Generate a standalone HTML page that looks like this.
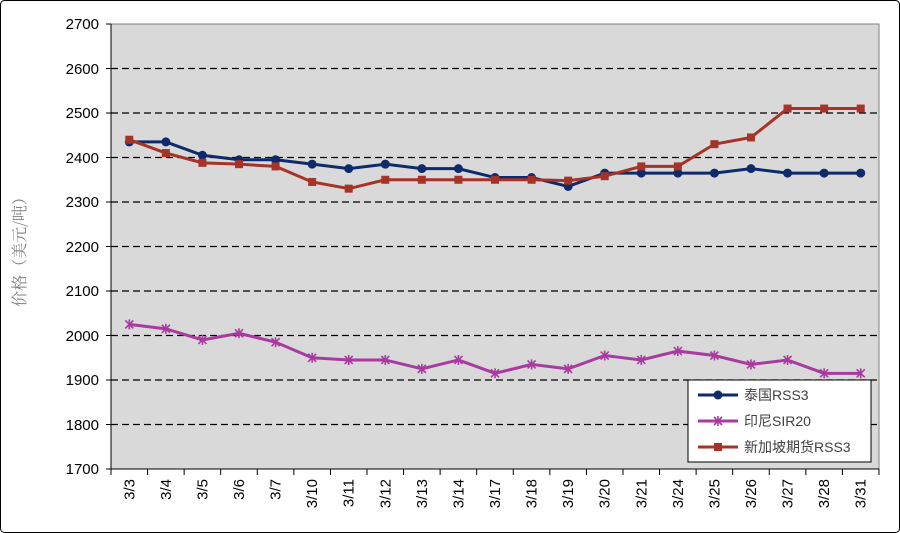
<!DOCTYPE html>
<html><head><meta charset="utf-8"><style>
body{margin:0;background:#fff;}
svg{display:block;font-family:"Liberation Sans","Noto Sans CJK SC",sans-serif;}
</style></head><body>
<svg id="s" width="900" height="533" viewBox="0 0 900 533">
<rect x="0.5" y="0.5" width="899" height="532" rx="4" fill="#fff" stroke="#000"/>
<rect x="111" y="24" width="768" height="445" fill="#d9d9d9" stroke="#808080"/>
<g id="grid"></g>
<g font-size="15" fill="#000" text-anchor="end">
<text x="99" y="29">2700</text><text x="99" y="74">2600</text><text x="99" y="118">2500</text><text x="99" y="163">2400</text><text x="99" y="207">2300</text><text x="99" y="252">2200</text><text x="99" y="296">2100</text><text x="99" y="341">2000</text><text x="99" y="385">1900</text><text x="99" y="430">1800</text><text x="99" y="474">1700</text>
</g>
<text transform="translate(25,248) rotate(-90)" font-size="16" fill="#7f7f7f" text-anchor="middle" font-family="'Noto Serif CJK SC',serif">价格（美元/吨）</text>
<g id="xl" font-size="15" fill="#000"></g>
<g id="series"></g>
<rect x="688" y="380" width="183" height="82" fill="#fff" stroke="#000"/>
<line x1="698" y1="395" x2="738" y2="395" stroke="#0d2a6b" stroke-width="3"/><circle cx="718" cy="395" r="4.5" fill="#0d2a6b"/>
<line x1="698" y1="421" x2="738" y2="421" stroke="#a83b9f" stroke-width="3"/>
<g stroke="#a83b9f" stroke-width="1.6"><line x1="714" y1="417" x2="722" y2="425"/><line x1="722" y1="417" x2="714" y2="425"/><line x1="718" y1="416" x2="718" y2="426"/></g>
<line x1="698" y1="447" x2="738" y2="447" stroke="#a63228" stroke-width="3"/><rect x="714" y="443" width="8" height="8" fill="#a63228"/>
<g font-size="14" fill="#404040"><text x="744" y="400">泰国RSS3</text><text x="744" y="426">印尼SIR20</text><text x="744" y="452">新加坡期货RSS3</text></g>
</svg>
<script>
const ns="http://www.w3.org/2000/svg";
function el(p,t,a){const e=document.createElementNS(ns,t);for(const k in a)e.setAttribute(k,a[k]);p.appendChild(e);return e;}
const Y=v=>469-(v-1700)*0.445, X=i=>129.3+36.57*i;
const g=document.getElementById('grid');
for(let v=1800;v<=2600;v+=100)el(g,'line',{x1:111,x2:879,y1:Y(v),y2:Y(v),stroke:'#000','stroke-width':1.2,'stroke-dasharray':'7,4'});
el(g,'line',{x1:111,x2:879,y1:469,y2:469,stroke:'#000'});
el(g,'line',{x1:111,x2:111,y1:24,y2:469,stroke:'#000'});
for(let v=1700;v<=2700;v+=100)el(g,'line',{x1:106,x2:111,y1:Y(v),y2:Y(v),stroke:'#000'});
for(let i=0;i<=21;i++)el(g,'line',{x1:111+36.57*i,x2:111+36.57*i,y1:469,y2:475,stroke:'#000'});
const labs=["3/3","3/4","3/5","3/6","3/7","3/10","3/11","3/12","3/13","3/14","3/17","3/18","3/19","3/20","3/21","3/24","3/25","3/26","3/27","3/28","3/31"];
const xl=document.getElementById('xl');
labs.forEach((l,i)=>{const t=el(xl,'text',{transform:`translate(${X(i)+5},479) rotate(-90)`,'text-anchor':'end'});t.textContent=l;});
const th=[2435,2435,2405,2395,2395,2385,2375,2385,2375,2375,2355,2355,2335,2365,2365,2365,2365,2375,2365,2365,2365];
const id=[2025,2015,1990,2005,1985,1950,1945,1945,1925,1945,1915,1935,1925,1955,1945,1965,1955,1935,1945,1915,1915];
const sg=[2440,2410,2388,2385,2380,2345,2330,2350,2350,2350,2350,2350,2348,2358,2380,2380,2430,2445,2510,2510,2510];
const s=document.getElementById('series');
function line(d,c){el(s,'polyline',{points:d.map((v,i)=>X(i)+','+Y(v)).join(' '),fill:'none',stroke:c,'stroke-width':3});}
line(id,'#a83b9f');
id.forEach((v,i)=>{const x=X(i),y=Y(v);[[-4,-4,4,4],[4,-4,-4,4],[0,-5,0,5]].forEach(a=>el(s,'line',{x1:x+a[0],y1:y+a[1],x2:x+a[2],y2:y+a[3],stroke:'#a83b9f','stroke-width':1.6}));});
line(th,'#0d2a6b');
th.forEach((v,i)=>el(s,'circle',{cx:X(i),cy:Y(v),r:4.5,fill:'#0d2a6b'}));
line(sg,'#a63228');
sg.forEach((v,i)=>el(s,'rect',{x:X(i)-4,y:Y(v)-4,width:8,height:8,fill:'#a63228'}));
</script>
</body></html>
